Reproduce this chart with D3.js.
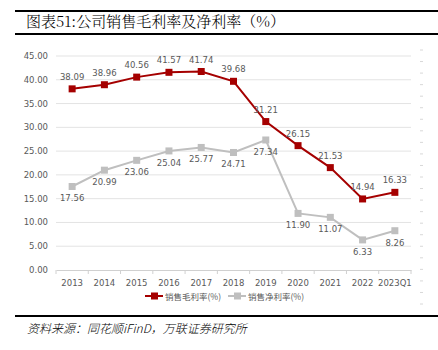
<!DOCTYPE html>
<html>
<head>
<meta charset="utf-8">
<script src="https://cdn.jsdelivr.net/npm/d3@7"></script>
<style>
  body { margin: 0; background: #fff; }
  svg { display: block; }
</style>
</head>
<body>
<div id="chart"></div>
<script>
const years = ["2013", "2014", "2015", "2016", "2017", "2018", "2019", "2020", "2021", "2022", "2023Q1"];
const grossMargin = [38.09, 38.96, 40.56, 41.57, 41.74, 39.68, 31.21, 26.15, 21.53, 14.94, 16.33];
const netMargin = [17.56, 20.99, 23.06, 25.04, 25.77, 24.71, 27.34, 11.90, 11.07, 6.33, 8.26];
const yTicks = [0, 5, 10, 15, 20, 25, 30, 35, 40, 45];
const seriesNames = ["销售毛利率(%)", "销售净利率(%)"];

const W = 438, H = 350;
const svg = d3.select("#chart").append("svg").attr("width", W).attr("height", H);

// header / footer rules
svg.append("rect").attr("x", 15).attr("y", 10).attr("width", W - 15).attr("height", 2).attr("fill", "#000");
svg.append("rect").attr("x", 15).attr("y", 33).attr("width", W - 15).attr("height", 2).attr("fill", "#000");
svg.append("rect").attr("x", 15).attr("y", 315).attr("width", W - 15).attr("height", 2).attr("fill", "#000");

svg.append("text")
    .attr("x", 26).attr("y", 27)
    .style("font-family", "'Noto Serif CJK SC', 'Noto Sans CJK SC', serif")
    .style("font-size", "15px")
    .style("font-weight", "300")
    .text("图表51:公司销售毛利率及净利率（%）");

svg.append("text")
    .attr("x", 27).attr("y", 333)
    .style("font-family", "'Noto Sans CJK SC', sans-serif")
    .style("font-size", "12px")
    .style("font-weight", "300")
    .style("font-style", "italic")
    .text("资料来源：同花顺iFinD，万联证券研究所");

const x = d3.scaleBand().domain(years).range([56, 411]);
const y = d3.scaleLinear().domain([0, 45]).range([270, 56]);
const cx = d => x(d) + x.bandwidth() / 2;

const numFont = "'DejaVu Sans', sans-serif";

// gridlines
svg.append("g").selectAll("line")
    .data(yTicks.filter(t => t > 0))
    .enter().append("line")
    .attr("x1", 56).attr("x2", 411)
    .attr("y1", d => y(d)).attr("y2", d => y(d))
    .attr("stroke", "#e3e3e3").attr("stroke-width", 1);

// y labels
svg.append("g").selectAll("text")
    .data(yTicks)
    .enter().append("text")
    .attr("x", 48).attr("y", d => y(d) + 3)
    .attr("text-anchor", "end")
    .style("font-family", numFont).style("font-size", "8.5px")
    .style("fill", "#595959")
    .text(d => d.toFixed(2));

// x axis
const xAxis = svg.append("g")
    .attr("transform", "translate(0,270)")
    .call(d3.axisBottom(x).tickSize(0).tickPadding(10));
xAxis.select(".domain").attr("stroke", "#d0d0d0");
xAxis.selectAll("text").style("font-family", numFont).style("font-size", "8.5px").style("fill", "#595959");
xAxis.selectAll(".sep")
    .data(years.concat([null]))
    .enter().append("line")
    .attr("class", "sep")
    .attr("x1", (d, i) => 56 + i * x.step()).attr("x2", (d, i) => 56 + i * x.step())
    .attr("y1", 0).attr("y2", 4)
    .attr("stroke", "#d0d0d0");

// faint right-side ticks
const yr = d3.scaleLinear().domain([0, 22]).range([304, 50]);
svg.append("g").selectAll("line")
    .data(d3.range(0, 23))
    .enter().append("line")
    .attr("x1", 420).attr("x2", 423)
    .attr("y1", d => yr(d)).attr("y2", d => yr(d))
    .attr("stroke", "#d8d8d8");

const series = [
    { name: seriesNames[0], values: grossMargin, color: "#a50000", labelDy: -9 },
    { name: seriesNames[1], values: netMargin, color: "#bfbfbf", labelDy: 15 }
];

const line = d3.line().x((d, i) => cx(years[i])).y(d => y(d));

series.slice().reverse().forEach(s => {
    svg.append("path")
        .datum(s.values)
        .attr("d", line)
        .attr("fill", "none")
        .attr("stroke", s.color)
        .attr("stroke-width", 2);
    svg.append("g").selectAll("rect")
        .data(s.values)
        .enter().append("rect")
        .attr("x", (d, i) => cx(years[i]) - 3.5)
        .attr("y", d => y(d) - 3.5)
        .attr("width", 7).attr("height", 7)
        .attr("fill", s.color);
    svg.append("g").selectAll("text")
        .data(s.values)
        .enter().append("text")
        .attr("x", (d, i) => cx(years[i]))
        .attr("y", d => y(d) + s.labelDy)
        .attr("text-anchor", "middle")
        .style("font-family", numFont).style("font-size", "8.5px")
        .style("fill", "#595959")
        .text(d => d.toFixed(2));
});

// legend
const legendX = [145, 228];
series.forEach((s, i) => {
    const g = svg.append("g").attr("transform", `translate(${legendX[i]},296)`);
    g.append("line").attr("x1", 0).attr("x2", 18).attr("y1", 0).attr("y2", 0)
        .attr("stroke", s.color).attr("stroke-width", 2);
    g.append("rect").attr("x", 6).attr("y", -3.5).attr("width", 7).attr("height", 7).attr("fill", s.color);
    g.append("text").attr("x", 20).attr("y", 3.5)
        .style("font-family", "'Noto Sans CJK SC', sans-serif").style("font-size", "8.5px")
        .style("fill", "#595959")
        .text(s.name);
});
</script>
</body>
</html>
